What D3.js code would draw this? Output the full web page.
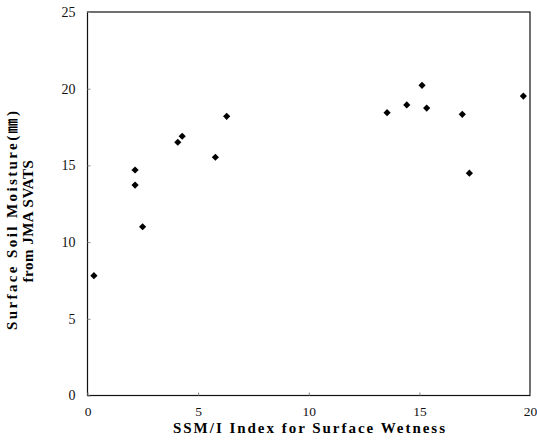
<!DOCTYPE html>
<html>
<head>
<meta charset="utf-8">
<script src="https://cdn.jsdelivr.net/npm/d3@7"></script>
<style>
  html, body { margin: 0; padding: 0; background: #fff; }
  svg { display: block; }
</style>
</head>
<body>
<svg id="chart" width="537" height="447"></svg>
<script>
// Data
const ssmiIndex = [0.29, 2.15, 2.15, 2.49, 4.08, 4.28, 5.78, 6.29, 13.54, 14.43, 15.12, 15.33, 16.94, 17.26, 19.70];
const soilMoisture = [7.81, 14.70, 13.72, 11.00, 16.51, 16.90, 15.53, 18.20, 18.44, 18.94, 20.22, 18.74, 18.33, 14.49, 19.52];
const xTicks = [0, 5, 10, 15, 20];
const yTicks = [0, 5, 10, 15, 20, 25];
const xTitle = "SSM/I Index for Surface Wetness";
const yTitleLines = ["Surface Soil Moisture(\u339C)", "from JMA SVATS"];

const svg = d3.select("#chart");
const margin = { left: 87.5, right: 7, top: 12, bottom: 51.5 };
const W = 537, H = 447;

const x = d3.scaleLinear().domain([0, 20]).range([margin.left, W - margin.right]);
const y = d3.scaleLinear().domain([0, 25]).range([H - margin.bottom, margin.top]);

const tickFont = '"Liberation Serif", "Times New Roman", serif';
const titleFont = '"Liberation Serif", "Times New Roman", "Noto Sans CJK JP", serif';

// Frame
svg.append("rect")
  .attr("x", x(0)).attr("y", y(25))
  .attr("width", x(20) - x(0)).attr("height", y(0) - y(25))
  .attr("fill", "none").attr("stroke", "#111").attr("stroke-width", 1.2);

// X axis (inner ticks)
const xAxis = svg.append("g")
  .attr("transform", `translate(0,${y(0)})`)
  .call(d3.axisBottom(x).tickValues(xTicks).tickSizeInner(-3).tickSizeOuter(0).tickPadding(11).tickFormat(d3.format("d")));
xAxis.select(".domain").remove();
xAxis.selectAll(".tick line").attr("stroke", "#888");
xAxis.selectAll(".tick text")
  .style("font-family", tickFont).style("font-size", "13.5px").attr("fill", "#111");

// Y axis (inner ticks)
const yAxis = svg.append("g")
  .attr("transform", `translate(${x(0)},0)`)
  .call(d3.axisLeft(y).tickValues(yTicks).tickSizeInner(-3).tickSizeOuter(0).tickPadding(12).tickFormat(d3.format("d")));
yAxis.select(".domain").remove();
yAxis.selectAll(".tick line").attr("stroke", "#888");
yAxis.selectAll(".tick text")
  .style("font-family", tickFont).style("font-size", "14px").attr("fill", "#111");

// Points (diamonds)
const diamond = d3.symbol().type(d3.symbolSquare).size(26);
svg.append("g").selectAll("path")
  .data(d3.zip(ssmiIndex, soilMoisture))
  .join("path")
  .attr("d", diamond)
  .attr("transform", d => `translate(${x(d[0])},${y(d[1])}) rotate(45)`)
  .attr("fill", "#000");

// X title
svg.append("text")
  .attr("x", 173).attr("y", 433)
  .attr("textLength", 272).attr("lengthAdjust", "spacing")
  .style("font-family", titleFont).style("font-size", "15px").style("font-weight", "bold")
  .attr("fill", "#000")
  .text(xTitle);

// Y title line 1 (stretched to the reference's length)
svg.append("text")
  .attr("transform", "translate(17,330) rotate(-90)")
  .attr("textLength", 219).attr("lengthAdjust", "spacing")
  .style("font-family", titleFont).style("font-size", "15px").style("font-weight", "bold")
  .attr("fill", "#000")
  .text(yTitleLines[0]);

// Y title line 2 (natural width, centred)
svg.append("text")
  .attr("transform", "translate(33,221) rotate(-90)")
  .attr("text-anchor", "middle")
  .style("font-family", titleFont).style("font-size", "15px").style("font-weight", "bold")
  .style("letter-spacing", "0.5px")
  .attr("fill", "#000")
  .text(yTitleLines[1]);
</script>
</body>
</html>
